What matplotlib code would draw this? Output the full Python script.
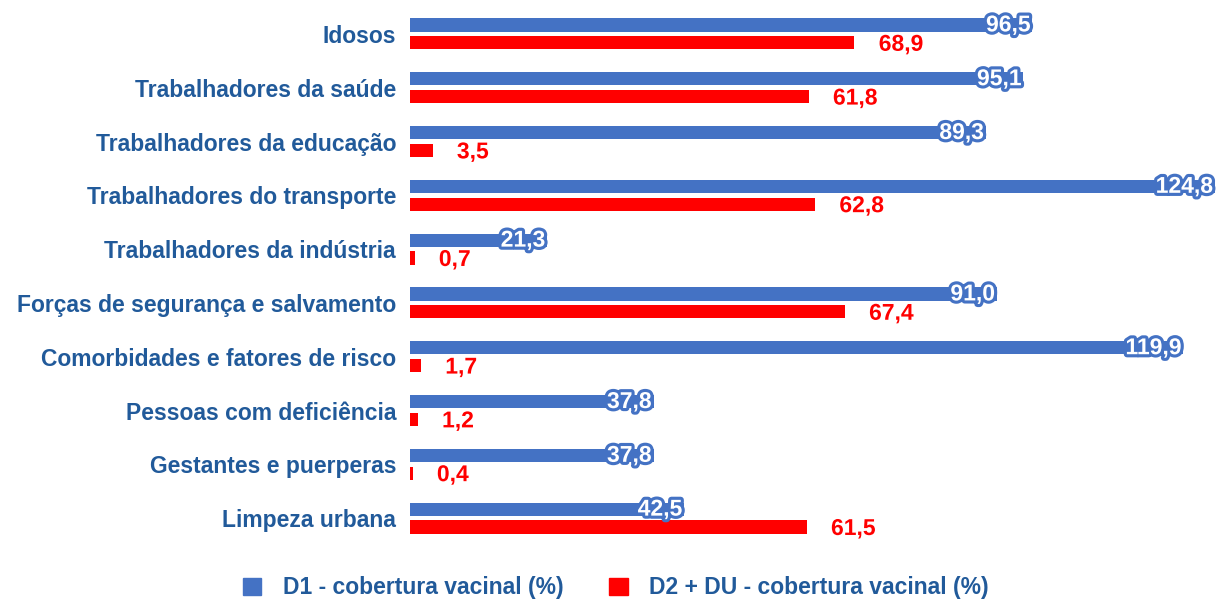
import numpy as np
import matplotlib
matplotlib.use('Agg')
from matplotlib import pyplot as plt
import matplotlib.patheffects as pe
from matplotlib.patches import Patch

# chart data
categories = [
    'Idosos',
    'Trabalhadores da saúde',
    'Trabalhadores da educação',
    'Trabalhadores do transporte',
    'Trabalhadores da indústria',
    'Forças de segurança e salvamento',
    'Comorbidades e fatores de risco',
    'Pessoas com deficiência',
    'Gestantes e puerperas',
    'Limpeza urbana',
]
d1_values = [96.5, 95.1, 89.3, 124.8, 21.3, 91.0, 119.9, 37.8, 37.8, 42.5]
d2_values = [68.9, 61.8, 3.5, 62.8, 0.7, 67.4, 1.7, 1.2, 0.4, 61.5]
series_names = ['D1 - cobertura vacinal (%)', 'D2 + DU - cobertura vacinal (%)']

BLUE = '#4472C4'
RED = '#FF0000'
TEXT_BLUE = '#215A9A'

plt.rcParams['font.family'] = ['Liberation Sans', 'DejaVu Sans']

fig = plt.figure(figsize=(12.22, 6.03), dpi=100)
ax = fig.add_axes([410 / 1222, 1 - 545 / 603, 805 / 1222, 538 / 603])

y = np.arange(len(categories))
offset = 0.167
bar_h = 0.245

ax.barh(y - offset, d1_values, height=bar_h, color=BLUE)
ax.barh(y + offset, d2_values, height=bar_h, color=RED)

ax.set_xlim(0, 124.8)
ax.set_ylim(len(categories) - 0.5, -0.5)

# value labels
for yi, v in zip(y, d1_values):
    t = ax.text(v - 0.3, yi - offset, f'{v:.1f}'.replace('.', ','), ha='right', va='center',
                color='white', fontsize=16.5, fontweight='bold', clip_on=False)
    t.set_path_effects([pe.withStroke(linewidth=4.5, foreground=BLUE)])

for yi, v in zip(y, d2_values):
    t = ax.annotate(f'{v:.1f}'.replace('.', ','), xy=(v, yi + offset), xytext=(17.5, -1),
                    textcoords='offset points', ha='left', va='center',
                    color=RED, fontsize=16.5, fontweight='bold')
    t.set_path_effects([pe.withStroke(linewidth=3, foreground='white')])

ax.set_yticks(y)
ax.set_yticklabels(categories, fontsize=16.5, fontweight='bold', color=TEXT_BLUE)
ax.tick_params(axis='y', length=0, pad=10)
ax.set_xticks([])
for s in ax.spines.values():
    s.set_visible(False)

handles = [Patch(color=BLUE), Patch(color=RED)]
leg = fig.legend(handles, series_names, loc='lower center', bbox_to_anchor=(0.504, -0.028),
                 ncol=2, frameon=False, fontsize=16.5, handlelength=0.8, handleheight=0.8,
                 handletextpad=0.95, columnspacing=2.0)
for txt in leg.get_texts():
    txt.set_color(TEXT_BLUE)
    txt.set_fontweight('bold')

fig.savefig('out.png', dpi=100)
